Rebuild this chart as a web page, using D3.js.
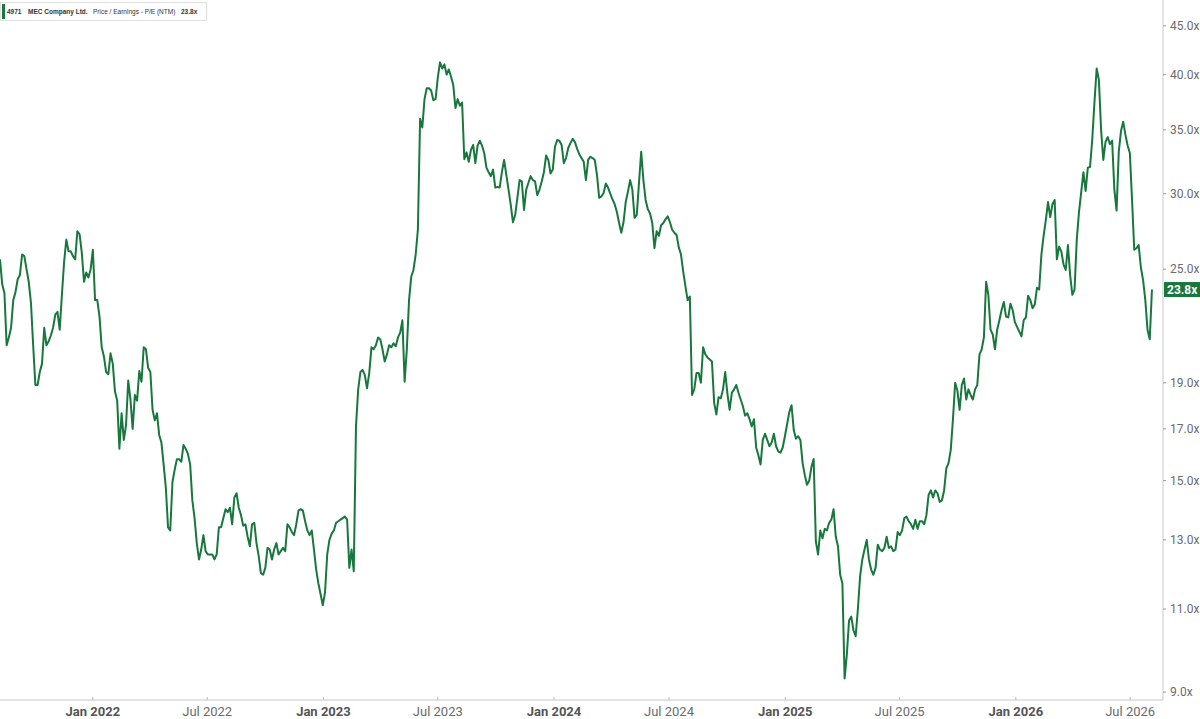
<!DOCTYPE html>
<html><head><meta charset="utf-8">
<script src="https://cdn.jsdelivr.net/npm/d3@7"></script>
<style>body{margin:0;background:#fff}svg{display:block;font-family:Roboto,"Liberation Sans",Arial,sans-serif}</style>
</head><body><svg id="c" width="1200" height="719"></svg>
<script>
const startDate = "2021-08-07";
const stepHours = 84; // half-week sampling
const peValues = [
25.6,24.1, 23.6,20.8, 21.2,21.7, 23.2,23.65, 24.4,24.65,
25.9,25.8, 25.0,24.25, 23.05,20.8, 18.9,18.9, 19.5,19.9,
21.7,20.8, 21.0,21.3, 21.7,22.4, 22.55,21.6, 23.5,25.45,
26.85,26.1, 26.1,25.8, 25.6,27.4, 27.2,26.0, 24.25,24.8,
24.5,25.0, 26.2,23.2, 23.2,22.3, 20.7,20.25, 19.5,19.4,
20.4,19.9, 18.6,18.2, 16.2,17.65, 16.55,17.15, 19.1,18.25,
17.0,18.45, 18.2,19.55, 19.05,20.7, 20.6,19.7, 19.5,17.8,
17.35,17.65, 16.75,16.45, 15.6,14.75, 13.4,13.3, 14.95,15.4,
15.8,15.8, 15.7,16.35, 16.2,16.0, 15.6,14.3, 13.7,12.9,
12.4,12.7, 13.15,12.65, 12.55,12.55, 12.55,12.4, 12.55,13.4,
13.4,13.7, 14.0,13.9, 14.05,13.5, 14.4,14.55, 14.05,13.8,
13.45,13.5, 13.1,12.8, 13.5,13.55, 12.9,12.5, 12.0,11.95,
12.15,12.75, 12.7,12.4, 12.7,12.9, 12.55,12.65, 12.75,12.65,
13.5,13.4, 13.25,13.15, 13.5,13.95, 14.0,13.95, 13.6,13.3,
13.15,13.3, 12.7,12.1, 11.7,11.4, 11.1,11.45, 12.55,13.0,
13.2,13.3, 13.55,13.6, 13.65,13.7, 13.75,13.65, 12.15,12.7,
12.05,17.1, 18.7,19.5, 19.6,19.35, 18.75,19.45, 20.7,20.6,
20.8,21.2, 21.1,20.6, 20.0,20.35, 20.8,20.7, 20.9,20.75,
21.2,21.45, 22.1,19.05, 20.6,23.2, 24.55,24.95, 25.9,27.5,
35.95,35.2, 37.7,38.7, 38.7,38.5, 37.6,37.7, 39.7,41.2,
40.6,41.0, 40.0,40.5, 39.8,39.0, 36.9,37.7, 37.1,37.4,
32.6,33.15, 32.4,33.35, 33.75,32.3, 33.7,34.1, 33.7,33.1,
31.95,31.6, 31.3,31.8, 30.45,30.5, 30.45,31.6, 32.55,31.4,
30.3,29.2, 28.0,28.5, 29.7,31.0, 30.9,28.85, 30.3,30.8,
31.3,31.0, 30.9,29.9, 30.3,30.9, 31.6,32.9, 32.55,31.5,
31.8,33.6, 34.15,34.1, 33.75,32.3, 32.7,33.5, 33.9,34.25,
34.0,33.45, 33.0,32.7, 32.4,31.0, 32.55,32.8, 32.7,32.55,
31.4,29.7, 29.8,30.05, 30.75,30.45, 30.0,29.6, 29.25,28.7,
27.95,27.3, 28.0,29.4, 30.15,31.0, 30.3,28.3, 28.5,30.8,
33.2,31.0, 29.55,28.9, 28.6,27.95, 26.3,27.4, 27.1,27.8,
27.95,28.2, 28.4,28.0, 27.5,27.3, 27.15,26.35, 25.9,24.85,
24.0,23.2, 23.4,18.45, 18.7,19.45, 19.45,19.0, 20.7,20.35,
20.2,20.1, 20.0,18.1, 17.6,18.35, 18.3,18.7, 19.5,18.5,
17.8,18.55, 18.7,18.9, 18.55,18.25, 17.95,17.55, 17.65,17.4,
17.1,17.4, 16.25,15.95, 15.6,16.55, 16.8,16.55, 16.3,16.45,
16.8,16.3, 16.1,16.05, 16.25,16.7, 17.2,17.7, 18.0,16.95,
16.6,16.7, 16.55,15.65, 15.2,14.85, 15.0,15.5, 15.8,12.95,
12.55,13.3, 13.05,13.35, 13.3,13.55, 13.65,14.0, 13.1,12.8,
11.95,11.7, 9.3,9.85, 10.7,10.8, 10.45,10.3, 11.0,11.9,
12.4,12.7, 13.0,12.4, 12.1,11.95, 12.15,12.85, 12.7,12.65,
12.75,13.1, 12.75,12.8, 12.65,12.7, 13.25,13.15, 13.3,13.7,
13.75,13.6, 13.5,13.35, 13.65,13.35, 13.6,13.6, 13.5,13.8,
14.5,14.65, 14.4,14.65, 14.55,14.25, 14.3,14.65, 15.45,15.65,
16.15,17.4, 19.0,18.65, 17.8,18.9, 19.2,18.25, 18.7,18.45,
18.25,18.7, 18.9,20.35, 20.6,21.2, 24.25,23.5, 21.6,21.35,
20.6,21.6, 22.1,22.65, 23.1,22.3, 22.25,23.0, 22.65,22.0,
21.75,21.5, 21.25,22.1, 22.25,23.45, 23.2,22.75, 22.95,23.9,
23.8,25.9, 27.1,28.15, 29.4,28.35, 29.25,29.55, 25.6,26.4,
26.1,25.3, 24.95,26.5, 24.65,23.5, 23.8,26.85, 28.7,30.1,
31.6,30.2, 31.95,32.0, 34.2,37.4, 40.6,39.5, 35.0,32.55,
34.0,34.4, 33.8,34.1, 30.3,28.8, 33.2,34.9, 35.7,34.6,
33.7,33.1, 29.55,26.2, 26.3,26.5, 25.1,24.35, 23.2,21.6,
21.1,23.8
];
const yTickValues = [9,11,13,15,17,19,25,30,35,40,45];
const xDomain = ["2021-08-07","2026-08-22"];
const xTickStart = "2022-01-01";
const currentLabel = "23.8x";
const legendParts = [
  {text:"4971", bold:true},
  {text:"MEC Company Ltd.", bold:true},
  {text:"Price / Earnings - P/E (NTM)", bold:false},
  {text:"23.8x", bold:true}
];
const legendX = [7, 28, 93, 181];

const parse = d3.timeParse("%Y-%m-%d");
const t0 = parse(startDate);
const data = peValues.map((v,i)=>({date:d3.timeHour.offset(t0,i*stepHours), value:v}));

const plotR = 1163, plotB = 700;
const green = "#18773d";
const svg = d3.select("#c");

const x = d3.scaleTime().domain(xDomain.map(parse)).range([0, plotR]);
const y = d3.scaleLog().domain([8.83, 47.9]).range([plotB, 0]);

// line
svg.append("path").datum(data)
  .attr("fill","none").attr("stroke",green).attr("stroke-width",2)
  .attr("stroke-linejoin","round")
  .attr("d", d3.line().x(d=>x(d.date)).y(d=>y(d.value)));

// right axis
const ra = svg.append("g");
ra.append("line").attr("x1",plotR).attr("x2",plotR).attr("y1",0).attr("y2",plotB)
  .attr("stroke","#c8c8c8").attr("stroke-width",1);
yTickValues.forEach(v=>{
  const yy = y(v);
  ra.append("line").attr("x1",plotR).attr("x2",plotR+3).attr("y1",yy).attr("y2",yy).attr("stroke","#999");
  ra.append("text").attr("x",plotR+7).attr("y",yy).attr("dy","0.35em")
    .attr("font-size",12).attr("fill","#6b6b6b").text(v.toFixed(1)+"x");
});

// bottom axis
const ba = svg.append("g");
ba.append("line").attr("x1",0).attr("x2",plotR).attr("y1",plotB).attr("y2",plotB)
  .attr("stroke","#c8c8c8").attr("stroke-width",1);
const ticks = d3.timeMonth.every(6).range(parse(xTickStart), x.domain()[1]);
ticks.forEach(t=>{
  const xx = x(t);
  const isJan = t.getMonth()===0;
  ba.append("line").attr("x1",xx).attr("x2",xx).attr("y1",plotB-3).attr("y2",plotB).attr("stroke","#bbb");
  ba.append("text").attr("x",xx).attr("y",716).attr("text-anchor","middle")
    .attr("font-size",13).attr("font-weight",isJan?"bold":"normal")
    .attr("fill",isJan?"#555":"#6b6b6b")
    .text(d3.timeFormat("%b %Y")(t));
});

// current value tag
const lastV = data[data.length-1].value;
const ty = y(lastV);
svg.append("rect").attr("x",plotR+1).attr("y",ty-7.5).attr("width",36).attr("height",15).attr("fill",green);
svg.append("text").attr("x",plotR+4).attr("y",ty).attr("dy","0.36em")
  .attr("font-size",12).attr("font-weight","bold").attr("fill","#fff").text(currentLabel);

// legend
const lg = svg.append("g");
lg.append("rect").attr("x",0.5).attr("y",2.5).attr("width",206).attr("height",18)
  .attr("fill","#fff").attr("stroke","#e0e0e0");
lg.append("rect").attr("x",2).attr("y",4).attr("width",3).attr("height",15).attr("fill",green);
legendParts.forEach((p,i)=>{
  lg.append("text").attr("x",legendX[i]).attr("y",14.3)
    .attr("font-size",6.5).attr("fill","#333")
    .attr("font-family","'Liberation Sans',Arial,sans-serif")
    .attr("font-weight",p.bold?"bold":"normal").text(p.text);
});
</script></body></html>
